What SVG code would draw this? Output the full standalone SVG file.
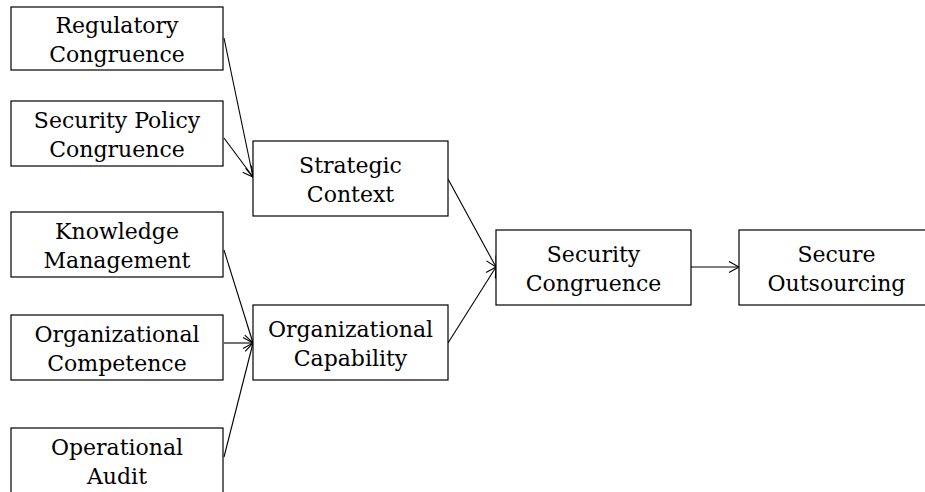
<svg xmlns="http://www.w3.org/2000/svg" width="925" height="492" viewBox="0 0 925 492">
<style>
.box{fill:#fff;stroke:#000;stroke-width:1.2}
.lbl{font-family:"DejaVu Serif","Liberation Serif",serif;font-size:22px;fill:#000;text-anchor:middle}
.edge{stroke:#000;stroke-width:1.1;fill:none;marker-end:url(#arr)}
</style>
<defs>
<marker id="arr" markerUnits="userSpaceOnUse" markerWidth="14" markerHeight="14" viewBox="-11 -7 14 14" refX="0" refY="0" orient="auto">
<path d="M-10,-5.5 L0,0 L-10,5.5" fill="none" stroke="#000" stroke-width="1.1"/>
</marker>
</defs>
<rect width="925" height="492" fill="#fff"/>
<g id="connectors">
<line class="edge" x1="224" y1="38" x2="253" y2="177"/>
<line class="edge" x1="224" y1="138" x2="253" y2="177"/>
<line class="edge" x1="224" y1="250" x2="253" y2="343"/>
<line class="edge" x1="224" y1="343" x2="253" y2="343"/>
<line class="edge" x1="224" y1="457" x2="253" y2="343"/>
<line class="edge" x1="448" y1="179" x2="496" y2="267"/>
<line class="edge" x1="448" y1="343" x2="496" y2="267"/>
<line class="edge" x1="691" y1="267" x2="739" y2="267"/>
</g>
<g id="regulatory">
<rect class="box" x="11" y="7" width="212" height="63"/>
<text class="lbl" x="117" y="33">Regulatory</text>
<text class="lbl" x="117" y="62">Congruence</text>
</g>
<g id="security-policy">
<rect class="box" x="11" y="101" width="212" height="65"/>
<text class="lbl" x="117" y="128">Security Policy</text>
<text class="lbl" x="117" y="157">Congruence</text>
</g>
<g id="knowledge">
<rect class="box" x="11" y="212" width="212" height="65"/>
<text class="lbl" x="117" y="239">Knowledge</text>
<text class="lbl" x="117" y="268">Management</text>
</g>
<g id="org-competence">
<rect class="box" x="11" y="315" width="212" height="65"/>
<text class="lbl" x="117" y="342">Organizational</text>
<text class="lbl" x="117" y="371">Competence</text>
</g>
<g id="operational-audit">
<rect class="box" x="11" y="428" width="212" height="65"/>
<text class="lbl" x="117" y="455">Operational</text>
<text class="lbl" x="117" y="484">Audit</text>
</g>
<g id="strategic-context">
<rect class="box" x="253" y="141" width="195" height="75"/>
<text class="lbl" x="350.5" y="173">Strategic</text>
<text class="lbl" x="350.5" y="202">Context</text>
</g>
<g id="org-capability">
<rect class="box" x="253" y="305" width="195" height="75"/>
<text class="lbl" x="350.5" y="337">Organizational</text>
<text class="lbl" x="350.5" y="366">Capability</text>
</g>
<g id="security-congruence">
<rect class="box" x="496" y="230" width="195" height="75"/>
<text class="lbl" x="593.5" y="262">Security</text>
<text class="lbl" x="593.5" y="291">Congruence</text>
</g>
<g id="secure-outsourcing">
<rect class="box" x="739" y="230" width="195" height="75"/>
<text class="lbl" x="836.5" y="262">Secure</text>
<text class="lbl" x="836.5" y="291">Outsourcing</text>
</g>
</svg>
